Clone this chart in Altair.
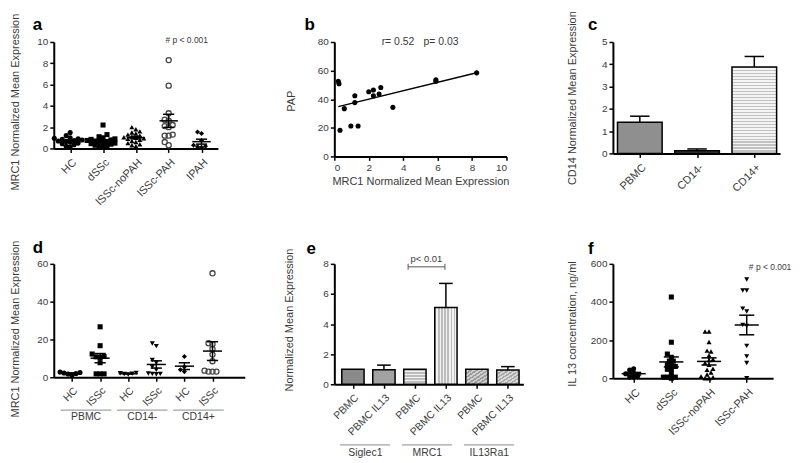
import json
import altair as alt
import pandas as pd

FONT = "Liberation Sans"
INK = "#3a3a3a"

# ---------------- data ----------------
# panel a: MRC1 normalized mean expression per group
A_LABELS = ["HC", "dSSc", "lSSc-noPAH", "lSSc-PAH", "IPAH"]
A_HC = [1.5, 1.2, 1.0, 0.95, 0.9, 0.85, 0.8, 0.75, 0.7, 0.65, 0.6, 0.5, 0.45, 0.35, 0.2, 0.15]
A_DSSC = [2.2, 1.3, 1.1, 1.0, 0.9, 0.85, 0.8, 0.75, 0.7, 0.65, 0.6, 0.55, 0.5, 0.45, 0.4, 0.3, 0.25, 0.2, 0.15]
A_NOPAH = [2.0, 1.8, 1.6, 1.5, 1.4, 1.3, 1.2, 1.1, 1.05, 1.0, 0.95, 0.9, 0.8, 0.7, 0.6, 0.5, 0.4, 0.3, 0.2]
A_PAH = [8.3, 5.9, 3.3, 2.7, 2.6, 2.2, 2.1, 2.0, 1.3, 1.2, 1.2, 0.6, 0.3]
A_IPAH = [1.55, 1.4, 0.75, 0.3, 0.2, 0.15, 0.1]
A_SHAPES = ["circle", "square", "triangle-up", "circle", "diamond"]
A_OPEN = [False, False, False, True, False]

# panel b: PAP vs MRC1
B_MRC1 = [0.23, 0.27, 0.33, 0.58, 0.96, 1.19, 1.19, 1.38, 2.0, 2.27, 2.27, 2.6, 2.7, 3.4, 5.9, 5.9, 8.27]
B_PAP = [52.6, 50.8, 18.3, 33.4, 21.3, 42.4, 37.6, 21.3, 45.2, 46.4, 42.4, 43.6, 48.2, 34.3, 53.5, 52.5, 58.4]

# panel c: CD14 expression bars
C_LABELS = ["PBMC", "CD14-", "CD14+"]
C_MEAN = [1.4, 0.12, 3.88]
C_SEM = [0.27, 0.08, 0.47]

# panel d: MRC1 in sorted fractions
D_LABELS = ["HC", "lSSc", "HC", "lSSc", "HC", "lSSc"]
D_GROUPS = ["PBMC", "CD14-", "CD14+"]
D_HC_PBMC = [2.8, 2.5, 2.3, 2.0, 1.7, 1.2]
D_LSSC_PBMC = [26.7, 16.7, 12.3, 11.0, 10.8, 10.5, 7.7, 1.8, 1.8, 1.8]
D_HC_CD14M = [2.3, 2.1, 1.9, 1.7, 1.5]
D_LSSC_CD14M = [17.9, 16.5, 9.1, 7.7, 5.5, 3.9, 2.0, 1.8, 1.8, 1.6]
D_HC_CD14P = [11.0, 5.5, 4.0, 3.0]
D_LSSC_CD14P = [55.0, 18.0, 17.5, 15.0, 12.0, 8.5, 3.5, 3.0, 3.0, 3.0]
D_SHAPES = ["circle", "square", "triangle-down", "triangle-down", "diamond", "circle"]
D_OPEN = [False, False, False, False, False, True]

# panel e: normalized expression after IL13
E_LABELS = ["PBMC", "PBMC IL13", "PBMC", "PBMC IL13", "PBMC", "PBMC IL13"]
E_GROUPS = ["Siglec1", "MRC1", "IL13Ra1"]
E_MEAN = [1.0, 0.97, 1.0, 5.1, 1.0, 0.95]
E_SEM = [0.0, 0.3, 0.0, 1.6, 0.0, 0.22]

# panel f: IL13 concentration
F_LABELS = ["HC", "dSSc", "lSSc-noPAH", "lSSc-PAH"]
F_HC = [50, 43, 28, 24, 11, 6, 6]
F_DSSC = [426, 189, 127, 110, 90, 90, 71, 71, 62, 47, 47, 24, 6, 6, 6, 0]
F_NOPAH = [245, 245, 190, 145, 140, 120, 100, 95, 80, 70, 50, 45, 30, 20, 10, 5, 0, 0]
F_PAH = [518, 460, 460, 365, 350, 280, 275, 170, 115, 80, 0]
F_SHAPES = ["circle", "square", "triangle-up", "triangle-down"]
F_OPEN = [False, False, False, False]


# ---------------- helpers ----------------
def swarm(vals, xpu, ypu, d=4.0):
    """Beeswarm horizontal offsets (in x-data units); markers may overlap a little."""
    placed = []
    res = [0.0] * len(vals)
    step = d / 2.0
    order = sorted(range(len(vals)), key=lambda k: vals[k])
    for k in order:
        y = vals[k] * ypu
        chosen = 0.0
        for j in range(0, 30):
            cands = [0.0] if j == 0 else ([j * step, -j * step] if j % 2 else [-j * step, j * step])
            hit = None
            for c in cands:
                if all((c - px) ** 2 + (y - py) ** 2 >= d * d - 1e-6 for px, py in placed):
                    hit = c
                    break
            if hit is not None:
                chosen = hit
                break
        placed.append((chosen, y))
        res[k] = chosen / xpu
    return res


def stripes(n, c1, c2, x2=0, y2=1):
    stops = []
    for k in range(n):
        a = round(k / n, 4)
        b = round((k + 0.5) / n, 4)
        c = round((k + 1) / n, 4)
        stops += [{"offset": a, "color": c1}, {"offset": b, "color": c1},
                  {"offset": b, "color": c2}, {"offset": c, "color": c2}]
    return {"gradient": "linear", "x1": 0, "y1": 0, "x2": x2, "y2": y2, "stops": stops}


def letter_layer(ch, dx, dy):
    return alt.Chart(pd.DataFrame({"t": [ch]})).mark_text(
        font=FONT, fontSize=17, fontWeight="bold", align="left", baseline="alphabetic", color="black"
    ).encode(x=alt.value(dx), y=alt.value(dy), text="t:N")


def label_expr(labels):
    return json.dumps(labels) + "[datum.value]"


class Enc:
    """Identical x / y channel definitions shared by every layer of a panel."""
    def __init__(self, xs, ys, xaxis, yaxis, xtitle, ytitle):
        self.xs, self.ys, self.xaxis, self.yaxis = xs, ys, xaxis, yaxis
        self.xtitle, self.ytitle = xtitle, ytitle

    def X(self, f):
        return alt.X(f, type="quantitative", scale=self.xs, axis=self.xaxis, title=self.xtitle)

    def Y(self, f):
        return alt.Y(f, type="quantitative", scale=self.ys, axis=self.yaxis, title=self.ytitle)


def text_layer(x, y, t, enc, size=9, align="center"):
    return alt.Chart(pd.DataFrame({"x": [x], "y": [y], "t": [t]})).mark_text(
        font=FONT, fontSize=size, color=INK, align=align, baseline="middle"
    ).encode(x=enc.X("x"), y=enc.Y("y"), text="t:N")


def group_labels(groups, centers, spans, H, line_dy, text_dy, enc):
    gl = pd.DataFrame({"c": centers, "a": [s[0] for s in spans], "b": [s[1] for s in spans], "t": groups})
    lines = alt.Chart(gl).mark_rule(color="#8a8a8a", strokeWidth=1).encode(
        x=enc.X("a"), x2="b", y=alt.value(H + line_dy))
    texts = alt.Chart(gl).mark_text(font=FONT, fontSize=10.5, color=INK, baseline="middle").encode(
        x=enc.X("c"), y=alt.value(H + text_dy), text="t:N")
    return [lines, texts]


def cat_enc(labels, xdom, ydom, yticks, ytitle, tx, ty, label_size):
    xs = alt.Scale(domain=list(xdom), nice=False, zero=False)
    ys = alt.Scale(domain=list(ydom), nice=False, zero=False)
    xaxis = alt.Axis(values=list(range(len(labels))), labelExpr=label_expr(labels),
                     labelAngle=-45, labelFontSize=label_size, labelOverlap=False, labelPadding=4)
    yaxis = alt.Axis(values=yticks, titleX=tx, titleY=ty, titleBaseline="middle")
    return Enc(xs, ys, xaxis, yaxis, None, ytitle)


def dot_panel(groups, labels, shapes, opens, W, H, xdom, ydom, yticks, ytitle, tx, ty,
              mean_hw=0.3, sem_hw=0.18, label_size=11):
    xpu = W / (xdom[1] - xdom[0])
    ypu = H / (ydom[1] - ydom[0])
    rows = []
    for gi, vals in enumerate(groups):
        offs = swarm(vals, xpu, ypu)
        for v, o in zip(vals, offs):
            rows.append({"g": gi, "v": v, "x": gi + o, "shape": shapes[gi], "open": bool(opens[gi])})
    df = pd.DataFrame(rows)
    enc = cat_enc(labels, xdom, ydom, yticks, ytitle, tx, ty, label_size)
    base = alt.Chart(df)
    filled = base.transform_filter("!datum.open").mark_point(
        filled=True, size=26, color="black", opacity=1).encode(
        x=enc.X("x"), y=enc.Y("v"), shape=alt.Shape("shape:N", scale=None))
    hollow = base.transform_filter("datum.open").mark_point(
        filled=False, size=26, color="#444444", strokeWidth=1.3, opacity=1).encode(
        x=enc.X("x"), y=enc.Y("v"), shape=alt.Shape("shape:N", scale=None))
    agg = base.transform_aggregate(m="mean(v)", s="stderr(v)", groupby=["g"]).transform_calculate(
        lo="datum.m - datum.s", hi="datum.m + datum.s",
        xa=f"datum.g - {mean_hw}", xb=f"datum.g + {mean_hw}",
        xc=f"datum.g - {sem_hw}", xd=f"datum.g + {sem_hw}")
    rule = dict(color="black", strokeWidth=1.5)
    meanl = agg.mark_rule(**rule).encode(x=enc.X("xa"), x2="xb", y=enc.Y("m"))
    hil = agg.mark_rule(**rule).encode(x=enc.X("xc"), x2="xd", y=enc.Y("hi"))
    lol = agg.mark_rule(**rule).encode(x=enc.X("xc"), x2="xd", y=enc.Y("lo"))
    vert = agg.mark_rule(**rule).encode(x=enc.X("g"), y=enc.Y("lo"), y2="hi")
    return [filled, hollow, meanl, hil, lol, vert], enc


def bar_panel(means, sems, fills, labels, xdom, ydom, yticks, ytitle, tx, ty,
              hw, cap_hw, label_size=11):
    n = len(means)
    df = pd.DataFrame({"i": list(range(n)), "v": means, "e": sems})
    enc = cat_enc(labels, xdom, ydom, yticks, ytitle, tx, ty, label_size)
    layers = []
    for i in range(n):
        layers.append(
            alt.Chart(df).transform_filter(f"datum.i == {i}").transform_calculate(
                xa=f"datum.i - {hw}", xb=f"datum.i + {hw}", z="0"
            ).mark_bar(fill=fills[i], stroke="black", strokeWidth=1.5).encode(
                x=enc.X("xa"), x2="xb", y=enc.Y("v"), y2="z"))
    err = alt.Chart(df).transform_filter("datum.e > 0").transform_calculate(
        top="datum.v + datum.e", ca=f"datum.i - {cap_hw}", cb=f"datum.i + {cap_hw}")
    layers.append(err.mark_rule(color="black", strokeWidth=1.5).encode(
        x=enc.X("i"), y=enc.Y("v"), y2="top"))
    layers.append(err.mark_rule(color="black", strokeWidth=1.5).encode(
        x=enc.X("ca"), x2="cb", y=enc.Y("top")))
    return layers, enc


# ---------------- panel a ----------------
WA, HA = 165, 107
la, ea = dot_panel([A_HC, A_DSSC, A_NOPAH, A_PAH, A_IPAH], A_LABELS, A_SHAPES, A_OPEN,
                   WA, HA, (-0.5, 4.5), (0, 10), [0, 2, 4, 6, 8, 10],
                   "MRC1 Normalized Mean Expression", -38, 60, mean_hw=0.28, sem_hw=0.17)
la.append(text_layer(3.55, 10.2, "# p < 0.001", ea, size=8.5))
la.append(letter_layer("a", -21, -12))
pa = alt.layer(*la).properties(width=WA, height=HA)

# ---------------- panel b ----------------
WB, HB = 173, 115
bdf = pd.DataFrame({"x": B_MRC1, "y": B_PAP})
eb = Enc(alt.Scale(domain=[0, 10], nice=False, zero=False),
         alt.Scale(domain=[0, 80], nice=False, zero=False),
         alt.Axis(values=[0, 2, 4, 6, 8, 10], titleY=25, titleBaseline="middle"),
         alt.Axis(values=[0, 20, 40, 60, 80], titleX=-43, titleY=59, titleBaseline="middle"),
         "MRC1 Normalized Mean Expression", "PAP")
bpts = alt.Chart(bdf).mark_circle(size=26, color="black", opacity=1).encode(x=eb.X("x"), y=eb.Y("y"))
breg = alt.Chart(bdf).transform_regression("x", "y").mark_line(
    color="black", strokeWidth=1.5).encode(x=eb.X("x"), y=eb.Y("y"))
pb = alt.layer(bpts, breg,
               text_layer(3.7, 80, "r= 0.52", eb, size=10.5),
               text_layer(6.2, 80, "p= 0.03", eb, size=10.5),
               letter_layer("b", -30, -12)).properties(width=WB, height=HB)

# ---------------- panel c ----------------
WC, HC_ = 168, 112
c_fills = ["#8f8f8f", "#3c3c3c", stripes(29, "#c2c2c2", "#f4f4f4")]
lc, ec = bar_panel(C_MEAN, C_SEM, c_fills, C_LABELS, (-0.47, 2.45), (0, 5),
                   [0, 1, 2, 3, 4, 5], "CD14 Normalized Mean Expression", -41, 56, 0.39, 0.17)
lc.append(letter_layer("c", -25, -12))
pc = alt.layer(*lc).properties(width=WC, height=HC_)

# ---------------- panel d ----------------
WD, HD = 192, 114
ld, ed = dot_panel([D_HC_PBMC, D_LSSC_PBMC, D_HC_CD14M, D_LSSC_CD14M, D_HC_CD14P, D_LSSC_CD14P],
                   D_LABELS, D_SHAPES, D_OPEN, WD, HD, (-0.65, 6.15), (0, 60), [0, 20, 40, 60],
                   "MRC1 Normalized Mean Expression", -38, 65, mean_hw=0.34, sem_hw=0.2, label_size=10.5)
ld += group_labels(D_GROUPS, [0.5, 2.5, 4.5], [(-0.4, 1.4), (1.6, 3.4), (3.6, 5.4)], HD, 33, 40, ed)
ld.append(letter_layer("d", -21, -11))
pd_ = alt.layer(*ld).properties(width=WD, height=HD)

# ---------------- panel e ----------------
WE, HE = 190, 121
e_fills = ["#8a8a8a", "#a2a2a2",
           stripes(5, "#bdbdbd", "#f2f2f2"),
           stripes(7, "#bdbdbd", "#f2f2f2", x2=1, y2=0),
           stripes(8, "#9a9a9a", "#d0d0d0", x2=1, y2=1),
           stripes(8, "#a8a8a8", "#dadada", x2=1, y2=1)]
le, ee = bar_panel(E_MEAN, E_SEM, e_fills, E_LABELS, (-0.6, 5.5), (0, 8),
                   [0, 2, 4, 6, 8], "Normalized Mean Expression", -45, 56, 0.36, 0.22,
                   label_size=10.5)
br = pd.DataFrame({"a": [1.78], "b": [2.97], "y": [7.8], "y0": [7.6], "y1": [8.0]})
le.append(alt.Chart(br).mark_rule(color="#555555", strokeWidth=1).encode(
    x=ee.X("a"), x2="b", y=ee.Y("y")))
le.append(alt.Chart(br).mark_rule(color="#555555", strokeWidth=1).encode(
    x=ee.X("a"), y=ee.Y("y0"), y2="y1"))
le.append(alt.Chart(br).mark_rule(color="#555555", strokeWidth=1).encode(
    x=ee.X("b"), y=ee.Y("y0"), y2="y1"))
le.append(text_layer(2.37, 8.3, "p< 0.01", ee, size=9.5))
le += group_labels(E_GROUPS, [0.4, 2.4, 4.4], [(-0.42, 1.2), (1.58, 3.2), (3.58, 5.2)], HE, 61, 69, ee)
le.append(letter_layer("e", -28, -10))
pe = alt.layer(*le).properties(width=WE, height=HE)

# ---------------- panel f ----------------
WF, HF = 161, 115
lf, ef = dot_panel([F_HC, F_DSSC, F_NOPAH, F_PAH], F_LABELS, F_SHAPES, F_OPEN,
                   WF, HF, (-0.55, 3.7), (0, 600), [0, 200, 400, 600],
                   "IL 13 concentration, ng/ml", -41, 60, mean_hw=0.32, sem_hw=0.2)
lf.append(text_layer(3.62, 585, "# p < 0.001", ef, size=8.5))
lf.append(letter_layer("f", -25, -10))
pf = alt.layer(*lf).properties(width=WF, height=HF)

chart = alt.concat(
    pa, pb, pc, pd_, pe, pf, columns=3,
    spacing={"row": 108, "column": 90}, bounds="flush"
).properties(
    padding={"left": 1, "top": 1, "right": 0, "bottom": 0}
).configure_view(stroke=None).configure_axis(
    grid=False, domainColor="black", domainWidth=2, tickColor="black", tickWidth=1.5, tickSize=4,
    labelFont=FONT, labelFontSize=10, labelColor=INK, labelPadding=2,
    titleFont=FONT, titleFontSize=11, titleFontWeight="normal", titleColor=INK
)

chart.save("out.html", embed_options={"renderer": "svg", "actions": False})
